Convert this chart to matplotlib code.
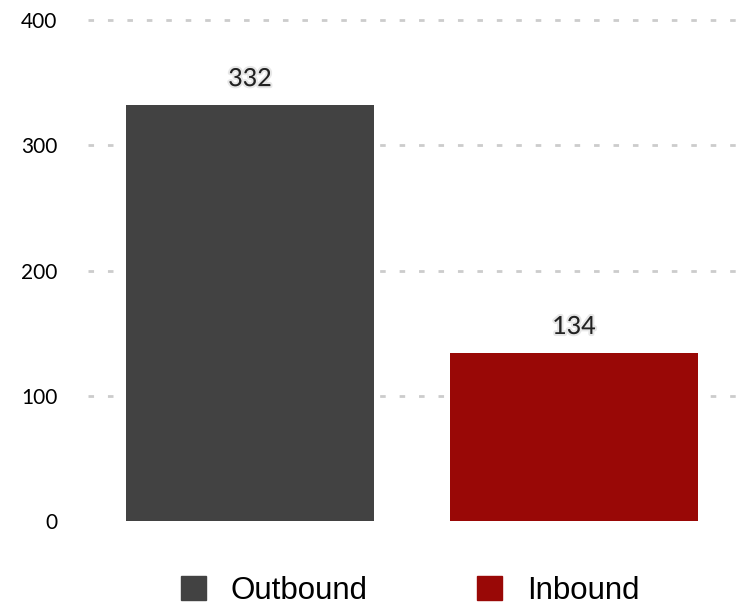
import matplotlib
matplotlib.use("Agg")
import matplotlib.pyplot as plt
import matplotlib.patheffects as pe
from matplotlib.patches import Patch

# data
categories = ["Outbound", "Inbound"]
values = [332, 134]
colors = ["#424242", "#990806"]
yticks = [0, 100, 200, 300, 400]

fig = plt.figure(figsize=(7.36, 6.07), dpi=100)
ax = fig.add_axes([88 / 736, 86 / 607, 1 - 88 / 736, (588 - 86) / 607])

x = list(range(len(categories)))
bars = ax.bar(x, values, width=0.766, color=colors, zorder=2)

ax.set_xlim(-0.5, len(categories) - 0.5)
ax.set_ylim(0, 401)
ax.set_yticks(yticks)
ax.set_yticklabels([str(t) for t in yticks], fontfamily="Lato", fontsize=15)
ax.set_xticks([])
ax.tick_params(axis="y", length=0, pad=22)
for s in ax.spines.values():
    s.set_visible(False)

for t in yticks[1:]:
    ax.axhline(t, color="#cccccc", lw=2, ls=(0, (2, 5)), zorder=1, clip_on=False)

shadow = [pe.withStroke(linewidth=3, foreground="#d8d8d8", alpha=0.6)]
for xi, v in zip(x, values):
    ax.annotate(str(v), (xi, v), xytext=(0, 11), textcoords="offset points",
                ha="center", va="bottom", fontfamily="Lato", fontsize=18,
                color="#222222", path_effects=shadow)

handles = [Patch(color=c, label=n) for c, n in zip(colors, categories)]
fig.legend(handles=handles, loc="lower center", bbox_to_anchor=(410 / 736, -0.045),
           ncol=2, frameon=False, prop={"family": "Liberation Sans", "size": 22.5},
           handlelength=0.8, handleheight=0.8, handletextpad=0.8, columnspacing=3.5)

fig.savefig("out.png", dpi=100)
